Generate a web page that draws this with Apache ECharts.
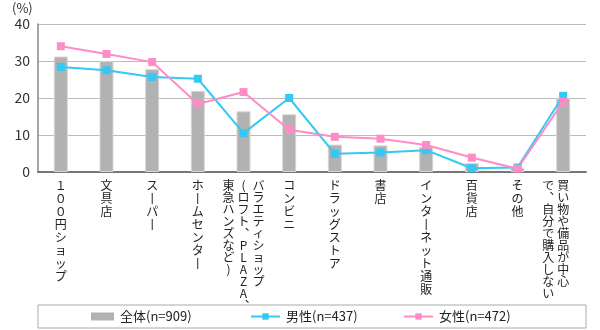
<!DOCTYPE html>
<html><head><meta charset="utf-8">
<script src="https://cdn.jsdelivr.net/npm/echarts@6/dist/echarts.min.js"></script>
<style>html,body{margin:0;padding:0;background:#fff}#c{width:600px;height:330px}</style>
</head><body><div id="c"></div>
<script>
const categories = ['１００円ショップ','文具店','スーパー','ホームセンター','バラエティショップ\n(ロフト、PLAZA、\n東急ハンズなど)','コンビニ','ドラッグストア','書店','インターネット通販','百貨店','その他','買い物や備品が中心\nで、自分で購入しない'];
const seriesNames = ['全体(n=909)','男性(n=437)','女性(n=472)'];
const totalValues = [31.2, 30.0, 27.8, 21.9, 16.4, 15.6, 7.4, 7.2, 6.8, 2.4, 1.1, 20.0];
const maleValues = [28.4, 27.5, 25.7, 25.2, 10.5, 20.0, 4.9, 5.3, 5.9, 1.0, 1.2, 20.6];
const femaleValues = [34.0, 31.9, 29.7, 18.4, 21.6, 11.4, 9.5, 9.0, 7.3, 3.9, 0.9, 19.0];
const yTicks = [0, 10, 20, 30, 40];

const FONT = '"Noto Sans CJK JP", "Noto Sans", sans-serif';
const vmap = {'ー':'丨','、':'︑'};
function vertical(label) {
  let cols = label.split('\n').map(s => Array.from(s).map(ch => vmap[ch] || ch));
  const tight = cols.length > 1;
  let disp = cols.slice().reverse();
  if (cols.length === 2) disp.push([]);
  const n = Math.max(...cols.map(c => c.length));
  const st = tight ? 't' : 'n';
  const lines = [];
  for (let i = 0; i < n; i++) {
    lines.push(disp.map(c => '{' + st + '|' + (c[i] || '　') + '}').join(''));
  }
  return lines.join('\n');
}

const chart = echarts.init(document.getElementById('c'), null, {renderer: 'canvas'});
const legendCommon = {top: 310, padding: 0, itemGap: 0, itemStyle: {borderWidth: 0}, textStyle: {fontSize: 13, color: '#222', fontFamily: FONT, padding: [0, 0, 0, 1]}, selectedMode: false};
chart.setOption({
  animation: false,
  textStyle: {fontFamily: FONT},
  grid: {left: 38, right: 14, top: 24, bottom: 158},
  xAxis: {
    type: 'category',
    data: categories,
    axisLine: {lineStyle: {color: '#777', width: 2}},
    axisTick: {show: false},
    axisLabel: {
      interval: 0, margin: 7, verticalAlign: 'top',
      formatter: v => vertical(v),
      rich: {
        n: {width: 15, align: 'center', fontSize: 12, lineHeight: 13, color: '#222', fontFamily: FONT},
        t: {width: 15, align: 'center', fontSize: 12, lineHeight: 12, color: '#222', fontFamily: FONT}
      }
    }
  },
  yAxis: {
    type: 'value', min: yTicks[0], max: yTicks[yTicks.length - 1], interval: 10,
    axisLine: {show: true, lineStyle: {color: '#888', width: 1.5}},
    axisTick: {show: false},
    splitLine: {lineStyle: {color: '#bbb', width: 1}},
    axisLabel: {fontSize: 14, color: '#333', margin: 8, fontFamily: FONT}
  },
  legend: [
    Object.assign({data: [{name: seriesNames[0], icon: 'rect'}], left: 91, itemWidth: 23, itemHeight: 8}, legendCommon),
    Object.assign({data: [seriesNames[1]], left: 250, itemWidth: 29, itemHeight: 8}, legendCommon),
    Object.assign({data: [seriesNames[2]], left: 403, itemWidth: 29, itemHeight: 8}, legendCommon)
  ],
  graphic: [
    {type: 'rect', shape: {x: 38, y: 305, width: 548, height: 23}, style: {fill: 'none', stroke: '#aaa', lineWidth: 1}, silent: true},
    {type: 'text', left: 12, top: 2, style: {text: '(%)', fontSize: 13, fill: '#333', fontFamily: FONT}}
  ],
  series: [
    {name: seriesNames[0], type: 'bar', data: totalValues, barWidth: 14,
     itemStyle: {color: '#b2b2b2', borderColor: '#d6d6d6', borderWidth: 1}},
    {name: seriesNames[1], type: 'line', data: maleValues, symbol: 'rect', symbolSize: 8,
     lineStyle: {color: '#33c8f5', width: 2}, itemStyle: {color: '#33c8f5'}},
    {name: seriesNames[2], type: 'line', data: femaleValues, symbol: 'rect', symbolSize: 8,
     lineStyle: {color: '#ff8cc6', width: 2}, itemStyle: {color: '#ff8cc6'}}
  ]
});
</script></body></html>
